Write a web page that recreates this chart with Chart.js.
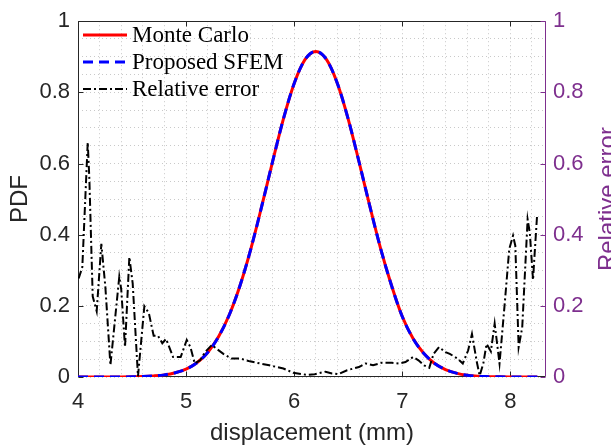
<!DOCTYPE html>
<html>
<head>
<meta charset="utf-8">
<script src="https://cdn.jsdelivr.net/npm/chart.js@4.4.1/dist/chart.umd.min.js"></script>
<style>
  html, body { margin: 0; padding: 0; background: #fff; }
  #wrap { width: 611px; height: 448px; }
</style>
</head>
<body>
<div id="wrap"><canvas id="pdfChart" width="611" height="448"></canvas></div>
<script>
// displacement (mm) for the two PDF curves
const pdfX = [4.0, 4.1, 4.2, 4.3, 4.4, 4.5, 4.6, 4.7, 4.8, 4.9,
              5.0, 5.1, 5.2, 5.3, 5.4, 5.5, 5.6, 5.7, 5.8, 5.9,
              6.0, 6.1, 6.2, 6.3, 6.4, 6.5, 6.6, 6.7, 6.8, 6.9,
              7.0, 7.1, 7.2, 7.3, 7.4, 7.5, 7.6, 7.7, 7.8, 7.9,
              8.0, 8.1, 8.2, 8.25];
const monteCarlo = [0, 0, 0, 0.0001, 0.0002, 0.0006, 0.0013, 0.003, 0.006, 0.012,
                    0.022, 0.040, 0.069, 0.113, 0.175, 0.258, 0.361, 0.480, 0.605, 0.725,
                    0.825, 0.892, 0.915, 0.892, 0.825, 0.725, 0.605, 0.480, 0.361, 0.258,
                    0.170, 0.108, 0.066, 0.038, 0.021, 0.011, 0.005, 0.002, 0.001, 0.0004,
                    0.0001, 0, 0, 0];
const sfem = [0, 0, 0, 0.0001, 0.0002, 0.0006, 0.0013, 0.003, 0.006, 0.012,
              0.022, 0.040, 0.069, 0.113, 0.175, 0.258, 0.361, 0.480, 0.605, 0.725,
              0.825, 0.892, 0.915, 0.892, 0.825, 0.725, 0.605, 0.480, 0.361, 0.258,
              0.170, 0.108, 0.066, 0.038, 0.021, 0.011, 0.005, 0.002, 0.001, 0.0004,
              0.0001, 0, 0, 0];

// relative error (right axis)
const errX = [4.006, 4.04, 4.09, 4.105, 4.136, 4.173, 4.216, 4.253, 4.30, 4.382,
              4.40, 4.435, 4.475, 4.506, 4.555, 4.614, 4.655, 4.70, 4.74, 4.78,
              4.815, 4.88, 4.95, 5.006, 5.04, 5.08, 5.13, 5.176, 5.238, 5.284,
              5.345, 5.42, 5.50, 5.59, 5.685, 5.77, 5.81, 5.90, 5.99, 6.12,
              6.19, 6.29, 6.35, 6.41, 6.49, 6.55, 6.60, 6.66, 6.73, 6.81,
              6.905, 6.966, 7.03, 7.10, 7.15, 7.20, 7.25, 7.29, 7.34, 7.40,
              7.44, 7.51, 7.56, 7.61, 7.645, 7.69, 7.716, 7.75, 7.78, 7.82,
              7.855, 7.90, 7.95, 7.99, 8.025, 8.046, 8.077, 8.11, 8.16, 8.18,
              8.21, 8.22, 8.247];
const relError = [0.277, 0.309, 0.659, 0.558, 0.227, 0.185, 0.374, 0.254, 0.033, 0.282,
                  0.246, 0.084, 0.337, 0.263, 0.002, 0.199, 0.180, 0.116, 0.116, 0.095,
                  0.107, 0.056, 0.056, 0.104, 0.084, 0.038, 0.047, 0.070, 0.090, 0.079,
                  0.065, 0.052, 0.052, 0.044, 0.038, 0.033, 0.030, 0.024, 0.012, 0.006,
                  0.008, 0.015, 0.010, 0.008, 0.019, 0.024, 0.028, 0.038, 0.033, 0.040,
                  0.040, 0.038, 0.042, 0.056, 0.047, 0.033, 0.026, 0.065, 0.084, 0.070,
                  0.065, 0.052, 0.038, 0.075, 0.121, 0.042, 0.004, 0.038, 0.093, 0.072,
                  0.150, 0.038, 0.213, 0.360, 0.397, 0.369, 0.084, 0.139, 0.443, 0.406,
                  0.273, 0.323, 0.452];

const xMajor = [4, 5, 6, 7, 8];
const yMajor = [0, 0.2, 0.4, 0.6, 0.8, 1];

const axisColor = '#262626';
const purple = '#7E2F8E';
const gridColor = 'rgba(38,38,38,0.25)';
const sans = '"Liberation Sans", Arial, sans-serif';

function toPoints(xs, ys) {
  return xs.map((x, i) => ({ x: x, y: ys[i] }));
}

function fmt(v) {
  if (Math.abs(v) < 1e-9) return '0';
  if (Math.abs(v - 1) < 1e-9) return '1';
  return v.toFixed(1);
}

// frame + inward tick marks (matlab style box)
const framePlugin = {
  id: 'frame',
  beforeDatasetsDraw(chart) {
    const { ctx, chartArea: a, scales } = chart;
    const L = Math.round(a.left) + 0.5, R = Math.round(a.right) - 0.5;
    const T = Math.round(a.top) + 0.5, B = Math.round(a.bottom) - 0.5;
    ctx.save();
    ctx.lineWidth = 1;
    ctx.strokeStyle = axisColor;
    ctx.beginPath();
    ctx.moveTo(R, T); ctx.lineTo(L, T); ctx.lineTo(L, B); ctx.lineTo(R, B);
    yMajor.forEach(v => {
      const y = Math.round(scales.y.getPixelForValue(v)) + 0.5;
      ctx.moveTo(L, y); ctx.lineTo(L + 5, y);
    });
    xMajor.forEach(v => {
      const x = Math.round(scales.x.getPixelForValue(v)) + 0.5;
      ctx.moveTo(x, B); ctx.lineTo(x, B - 5);
      ctx.moveTo(x, T); ctx.lineTo(x, T + 5);
    });
    ctx.stroke();
    ctx.strokeStyle = purple;
    ctx.beginPath();
    ctx.moveTo(R, T); ctx.lineTo(R, B);
    yMajor.forEach(v => {
      const y = Math.round(scales.y2.getPixelForValue(v)) + 0.5;
      ctx.moveTo(R, y); ctx.lineTo(R - 5, y);
    });
    ctx.stroke();
    ctx.restore();
  },
  afterDraw(chart) {
    const { ctx, chartArea: a } = chart;
    ctx.save();
    // right axis label reads bottom-to-top like the left one
    ctx.translate(608, (a.top + a.bottom) / 2);
    ctx.rotate(-Math.PI / 2);
    ctx.fillStyle = purple;
    ctx.font = '24px ' + sans;
    ctx.textAlign = 'center';
    ctx.textBaseline = 'middle';
    ctx.fillText('Relative error', 0, 0);
    ctx.restore();

    // legend in the upper left corner, no box
    ctx.save();
    ctx.font = '23px "Liberation Serif", "Times New Roman", serif';
    ctx.textBaseline = 'middle';
    ctx.fillStyle = '#000';
    const rows = [35, 62, 89];
    chart.data.datasets.forEach((ds, i) => {
      const y = rows[i];
      ctx.beginPath();
      ctx.strokeStyle = ds.borderColor;
      ctx.lineWidth = ds.borderWidth;
      ctx.setLineDash(ds.borderDash || []);
      ctx.moveTo(83, y); ctx.lineTo(127, y);
      ctx.stroke();
      ctx.setLineDash([]);
      ctx.fillText(ds.label, 132, y + 1);
    });
    ctx.restore();
  }
};

const ctx = document.getElementById('pdfChart').getContext('2d');
new Chart(ctx, {
  type: 'line',
  data: {
    datasets: [{
      label: 'Monte Carlo',
      data: toPoints(pdfX, monteCarlo),
      borderColor: '#FF0000',
      borderWidth: 3,
      pointRadius: 0,
      cubicInterpolationMode: 'monotone',
      yAxisID: 'y',
      order: 3
    }, {
      label: 'Proposed SFEM',
      data: toPoints(pdfX, sfem),
      borderColor: '#0000FF',
      borderWidth: 3,
      borderDash: [10, 6],
      pointRadius: 0,
      cubicInterpolationMode: 'monotone',
      yAxisID: 'y',
      order: 2
    }, {
      label: 'Relative error',
      data: toPoints(errX, relError),
      borderColor: '#000000',
      borderWidth: 2,
      borderDash: [8, 3, 2, 3],
      pointRadius: 0,
      tension: 0,
      yAxisID: 'y2',
      order: 1
    }]
  },
  options: {
    responsive: false,
    animation: false,
    layout: { padding: { top: 15, left: 0, right: 0, bottom: 0 } },
    plugins: { legend: { display: false }, tooltip: { enabled: false } },
    scales: {
      x: {
        type: 'linear',
        min: 4,
        max: 8.33,
        afterFit(scale) { scale.height = 71; },
        grid: { color: gridColor, lineWidth: 1, drawTicks: false },
        border: { display: false, dash: [1, 3] },
        ticks: {
          stepSize: 0.2,
          includeBounds: false,
          autoSkip: false,
          maxRotation: 0,
          padding: 12,
          color: axisColor,
          font: { family: sans, size: 22 },
          callback: v => (Math.abs(v - Math.round(v)) < 1e-6 ? String(Math.round(v)) : '')
        },
        title: {
          display: true,
          text: 'displacement (mm)',
          color: axisColor,
          font: { family: sans, size: 24 },
          padding: { top: 0, bottom: 0 }
        }
      },
      y: {
        position: 'left',
        min: 0,
        max: 1,
        afterFit(scale) { scale.width = 78; },
        grid: { color: gridColor, lineWidth: 1, drawTicks: false },
        border: { display: false, dash: [1, 3] },
        ticks: {
          stepSize: 0.05,
          autoSkip: false,
          padding: 8,
          color: axisColor,
          font: { family: sans, size: 22 },
          callback: v => (Math.abs(v * 5 - Math.round(v * 5)) < 1e-6 ? fmt(v) : '')
        },
        title: {
          display: true,
          text: 'PDF',
          color: axisColor,
          font: { family: sans, size: 24 },
          padding: { top: 6, bottom: 0 }
        }
      },
      y2: {
        position: 'right',
        min: 0,
        max: 1,
        afterFit(scale) { scale.width = 65; },
        grid: { display: false, drawTicks: false },
        border: { display: false },
        ticks: {
          stepSize: 0.2,
          padding: 7,
          color: purple,
          font: { family: sans, size: 22 },
          callback: v => fmt(v)
        }
      }
    }
  },
  plugins: [framePlugin]
});
</script>
</body>
</html>
